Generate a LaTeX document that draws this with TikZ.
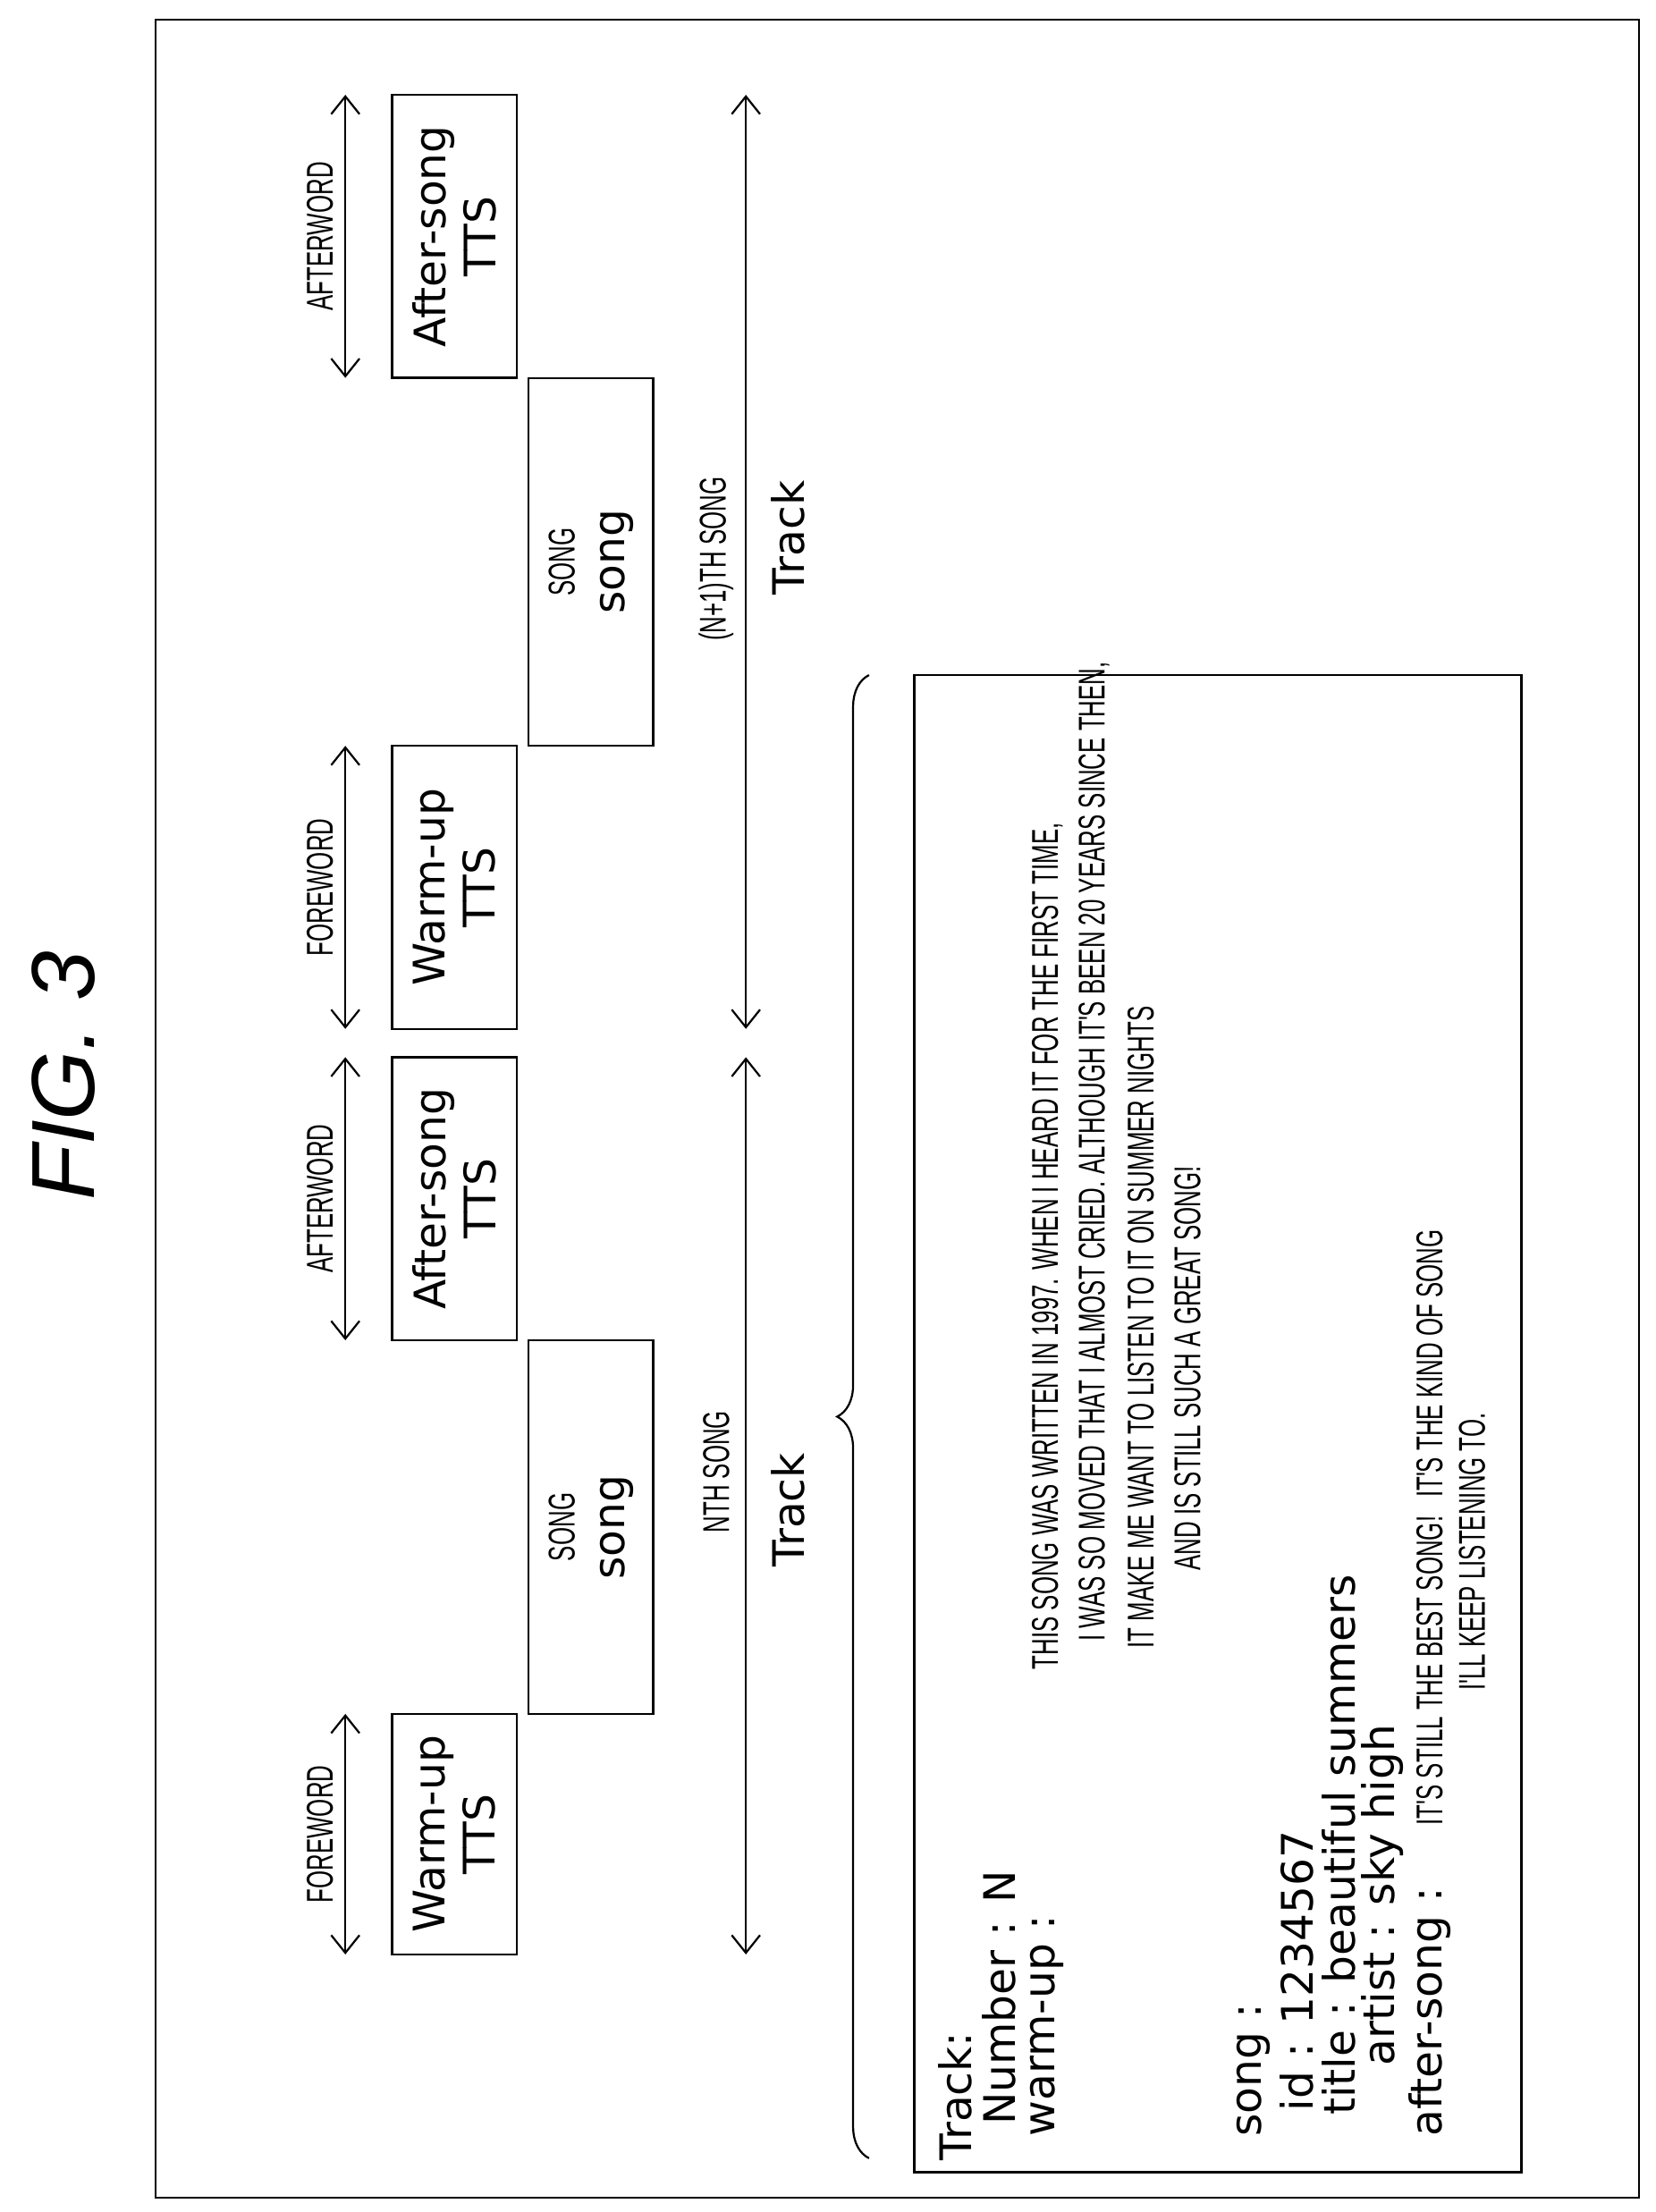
\documentclass[tikz,border=0pt]{standalone}
\usepackage{fontspec}
\setmainfont{Liberation Sans}
\newfontfamily\widefont{DejaVu Sans}
\newfontfamily\narrowfont[FakeStretch=0.62]{Liberation Sans}
\usetikzlibrary{arrows.meta,decorations.pathreplacing}
\tikzset{
  blk/.style={draw,thick,minimum height=1.76cm,rotate=90,align=center,font=\widefont\fontsize{17.5}{20}\selectfont},
  big/.style={rotate=90,font=\widefont\fontsize{17.5}{20}\selectfont,inner sep=0pt},
  caps/.style={rotate=90,font=\narrowfont\fontsize{15}{18}\selectfont,inner sep=0pt},
  span/.style={thick,{Straight Barb[length=2.5mm,width=4mm]}-{Straight Barb[length=2.5mm,width=4mm]}}
}
\begin{document}
\begin{tikzpicture}[x=0.02cm,y=-0.02cm]
  \useasboundingbox (0,0) rectangle (1170,1563);
  \draw[thick] (110,14) rectangle (1158,1553);
  \node[rotate=90,font=\itshape\fontsize{36}{40}\selectfont] (fig) at (45,760) {FIG. 3};
  % timeline boxes
  \node[blk,minimum width=3.4cm] (warm1) at (321,1296) {Warm-up\\TTS};
  \node[blk,minimum width=5.28cm] (song1) at (417.5,1079) {\narrowfont\fontsize{15}{18}\selectfont SONG\\song};
  \node[blk,minimum width=4cm] (after1) at (321,847) {After-song\\TTS};
  \node[blk,minimum width=4cm] (warm2) at (321,627) {Warm-up\\TTS};
  \node[blk,minimum width=5.2cm] (song2) at (417.5,397) {\narrowfont\fontsize{15}{18}\selectfont SONG\\song};
  \node[blk,minimum width=4cm] (after2) at (321,167) {After-song\\TTS};
  % spans
  \coordinate (f1a) at (244,1381); \coordinate (f1b) at (244,1211);
  \coordinate (a1a) at (244,947);  \coordinate (a1b) at (244,747);
  \coordinate (f2a) at (244,727);  \coordinate (f2b) at (244,527);
  \coordinate (a2a) at (244,267);  \coordinate (a2b) at (244,67);
  \coordinate (t1a) at (527,1381); \coordinate (t1b) at (527,747);
  \coordinate (t2a) at (527,727);  \coordinate (t2b) at (527,67);
  \foreach \a/\b in {f1a/f1b,a1a/a1b,f2a/f2b,a2a/a2b,t1a/t1b,t2a/t2b}
    \draw[span] (\a) -- (\b);
  \node[caps] (fw1) at (226,1296) {FOREWORD};
  \node[caps] (aw1) at (226,847) {AFTERWORD};
  \node[caps] (fw2) at (226,627) {FOREWORD};
  \node[caps] (aw2) at (226,167) {AFTERWORD};
  \node[caps] (nth) at (506,1040) {NTH SONG};
  \node[caps] (n1th) at (506,395) {(N+1)TH SONG};
  \node[big] (trk1) at (557,1067) {Track};
  \node[big] (trk2) at (557,380) {Track};
  % track data
  \draw[decorate,decoration={brace,amplitude=0.45cm},thick] (614,1525) -- (614,477);
  \node[draw,thick,minimum height=8.58cm,minimum width=21.16cm,rotate=90] (data) at (860.5,1006) {};
  \node[big,anchor=west] (l1) at (675,1527) {Track:};
  \node[big,anchor=west] (l2) at (706,1502) {Number : N};
  \node[big,anchor=west] (l3) at (740,1510) {warm-up :};
  \node[caps,anchor=west] (l3t) at (740,1180) {THIS SONG WAS WRITTEN IN 1997. WHEN I HEARD IT FOR THE FIRST TIME,};
  \node[caps,anchor=west] (l4) at (773,1160) {I WAS SO MOVED THAT I ALMOST CRIED. ALTHOUGH IT'S BEEN 20 YEARS SINCE THEN,};
  \node[caps,anchor=west] (l5) at (806,1165) {IT MAKE ME WANT TO LISTEN TO IT ON SUMMER NIGHTS};
  \node[caps,anchor=west] (l6) at (839,1110) {AND IS STILL SUCH A GREAT SONG!};
  \node[big,anchor=west] (l7) at (886,1510) {song :};
  \node[big,anchor=west] (l8) at (916,1492) {id : 1234567};
  \node[big,anchor=west] (l9) at (946,1495) {title : beautiful summers};
  \node[big,anchor=west] (l10) at (977,1460) {artist : sky high};
  \node[big,anchor=west] (l11) at (1010,1510) {after-song :};
  \node[caps,anchor=west] (l11t) at (1010,1290) {IT'S STILL THE BEST SONG!\enspace IT'S THE KIND OF SONG};
  \node[caps,anchor=west] (l12) at (1040,1195) {I'LL KEEP LISTENING TO.};
\end{tikzpicture}
\end{document}
